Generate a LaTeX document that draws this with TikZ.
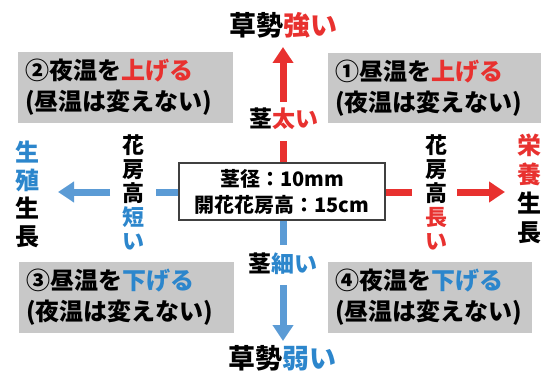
\documentclass[tikz,border=0pt]{standalone}
\usepackage{fontspec}
\setmainfont{Noto Sans CJK JP}
\usetikzlibrary{arrows.meta}
\definecolor{myred}{HTML}{E8312F}
\definecolor{myblue}{HTML}{5B9BD5}
\definecolor{tblue}{HTML}{2C86CC}
\definecolor{boxgray}{HTML}{C8C8C8}
\definecolor{bordergray}{HTML}{404040}
\tikzset{
  graybox/.style={fill=boxgray, inner sep=7pt, text width=#1, align=left,
    font=\bfseries\fontsize{24}{31}\selectfont},
  bigtxt/.style={inner sep=0pt, font=\bfseries\fontsize{27}{30}\selectfont},
  midtxt/.style={inner sep=0pt, font=\bfseries\fontsize{23}{26}\selectfont},
  vtxt/.style={inner sep=0pt, align=center, font=\bfseries\fontsize{22}{24}\selectfont},
  vtxtb/.style={inner sep=0pt, align=center, font=\bfseries\fontsize{24}{#1}\selectfont},
  stubR/.style={draw=myred, line width=7pt},
  stubB/.style={draw=myblue, line width=7pt},
  arrR/.style={stubR, -{Triangle[width=20pt,length=16pt]}},
  arrB/.style={stubB, -{Triangle[width=20pt,length=16pt]}},
}
\begin{document}
\begin{tikzpicture}[x=1pt,y=-1pt]
\useasboundingbox (0,0) rectangle (545,374);
% center box
\node[draw=bordergray, line width=1.5pt, fill=white, minimum width=206pt, minimum height=57pt,
  inner sep=0pt, align=center, font=\bfseries\fontsize{20}{26}\selectfont]
  (center) at (282,191.5) {茎径：10mm\\開花花房高：15cm};
% top / bottom labels
\node[bigtxt] (vigS) at (283,25) {草勢\textcolor{myred}{強い}};
\node[midtxt] (thick) at (284,119) {茎\textcolor{myred}{太い}};
\node[midtxt] (thin) at (283,264) {茎\textcolor{tblue}{細い}};
\node[bigtxt] (vigW) at (282,358) {草勢\textcolor{tblue}{弱い}};
% side labels
\node[vtxt] (shortT) at (133,192.5) {花\\房\\高\\\textcolor{tblue}{短}\\\textcolor{tblue}{い}};
\node[vtxt] (longT) at (436,192.5) {花\\房\\高\\\textcolor{myred}{長}\\\textcolor{myred}{い}};
\node[vtxtb=28] (repro) at (27,194) {\textcolor{tblue}{生}\\\textcolor{tblue}{殖}\\生\\長};
\node[vtxtb=29] (veg) at (529,188.5) {\textcolor{myred}{栄}\\\textcolor{myred}{養}\\生\\長};
% gray boxes
\node[graybox=201pt, minimum height=67pt] (b2) at (125.5,87.5) {②夜温を\textcolor{myred}{上げる}\\(昼温は変えない)};
\node[graybox=199pt, minimum height=68pt] (b1) at (434.5,88) {①昼温を\textcolor{myred}{上げる}\\(夜温は変えない)};
\node[graybox=201pt, minimum height=69pt] (b3) at (126.5,297.5) {③昼温を\textcolor{tblue}{下げる}\\(夜温は変えない)};
\node[graybox=190pt, minimum height=69pt] (b4) at (430,297.5) {④夜温を\textcolor{tblue}{下げる}\\(昼温は変えない)};
% connector coordinates
\coordinate (uS) at (283,141);
\coordinate (uA) at (283,102);
\coordinate (uB) at (283,47);
\coordinate (dS) at (283,245);
\coordinate (dA) at (283,285);
\coordinate (dB) at (283,341);
\coordinate (lS) at (156,192);
\coordinate (lA) at (110,192);
\coordinate (lB) at (58,192);
\coordinate (rS) at (412,192);
\coordinate (rA) at (457,192);
\coordinate (rB) at (505,192);
% connectors
\draw[stubR] (uS |- center.north) -- (uS);
\draw[arrR] (uA) -- (uB);
\draw[stubB] (dS |- center.south) -- (dS);
\draw[arrB] (dA) -- (dB);
\draw[stubB] (center.west |- lS) -- (lS);
\draw[arrB] (lA) -- (lB);
\draw[stubR] (center.east |- rS) -- (rS);
\draw[arrR] (rA) -- (rB);
\end{tikzpicture}
\end{document}
